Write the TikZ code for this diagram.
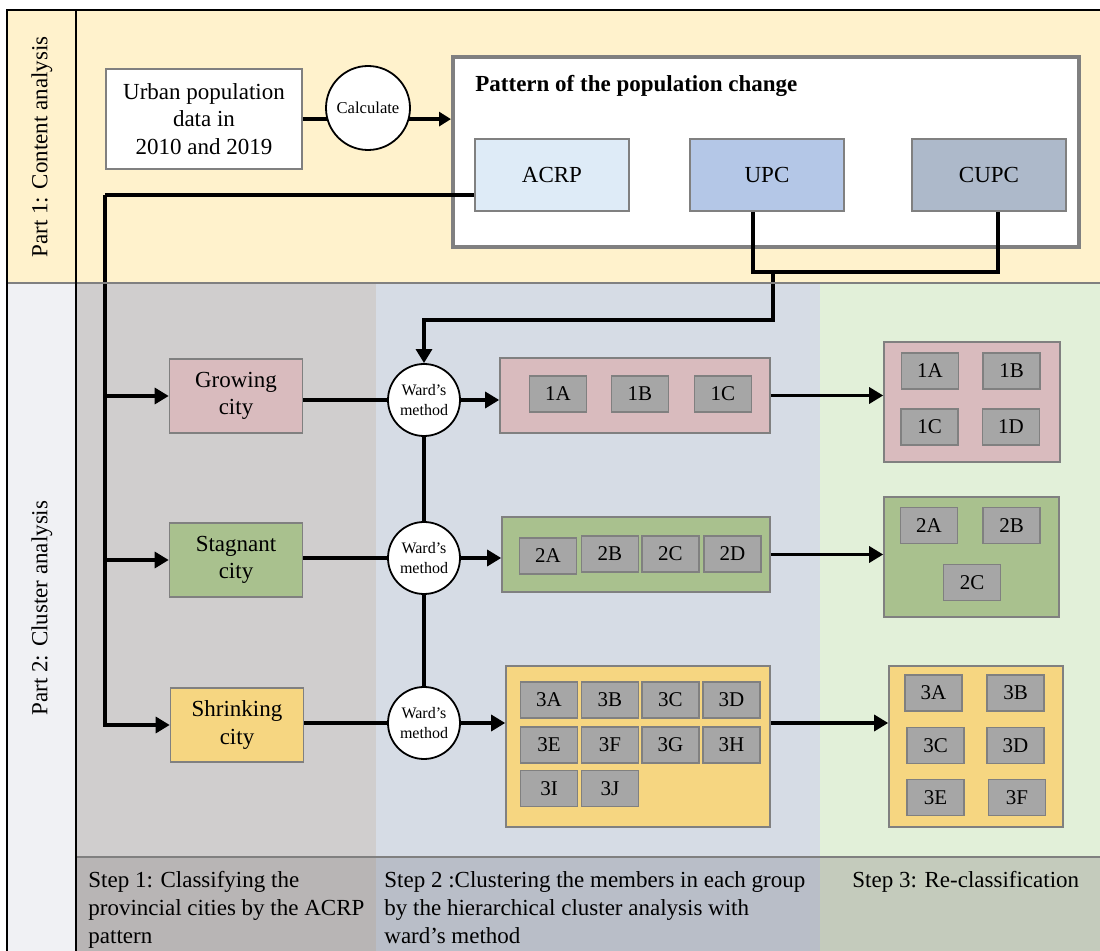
\documentclass[tikz,border=0pt]{standalone}
\usepackage{fontspec}
\setmainfont{Liberation Serif}
\usepackage{tikz}
\usetikzlibrary{positioning,arrows.meta}
\definecolor{partyellow}{RGB}{255,242,204}
\definecolor{partgray}{RGB}{240,241,244}
\definecolor{stepone}{RGB}{208,206,206}
\definecolor{steptwo}{RGB}{214,220,229}
\definecolor{stepthree}{RGB}{226,240,217}
\definecolor{bandone}{RGB}{184,181,181}
\definecolor{bandtwo}{RGB}{185,190,200}
\definecolor{bandthree}{RGB}{196,203,188}
\definecolor{growpink}{RGB}{217,187,190}
\definecolor{staggreen}{RGB}{169,193,142}
\definecolor{shrinkyellow}{RGB}{246,214,129}
\definecolor{acrpblue}{RGB}{222,235,247}
\definecolor{upcblue}{RGB}{180,199,231}
\definecolor{cupcgray}{RGB}{173,185,202}
\definecolor{memgray}{RGB}{166,166,166}
\definecolor{edgegray}{RGB}{128,128,128}

\tikzset{
  box/.style={draw=edgegray, line width=0.8pt, inner sep=1pt, align=center, font=\fontsize{11.5}{13.75}\selectfont},
  member/.style={draw=edgegray, line width=0.9pt, fill=memgray, minimum width=28.5pt, minimum height=18pt, inner sep=0pt, font=\fontsize{10.5}{12}\selectfont},
  ward/.style={circle, draw, line width=0.9pt, fill=white, minimum size=36pt, inner sep=0pt, align=center, font=\fontsize{8}{10}\selectfont},
  flow/.style={line width=1.6pt},
  arr/.style={flow, -{Triangle[length=7pt,width=8pt]}},
  steptext/.style={anchor=north west, inner sep=0pt, align=left, font=\fontsize{11.5}{14}\selectfont}
}

\begin{document}
\begin{tikzpicture}[x=0.5pt, y=-0.5pt]
\useasboundingbox (0,0) rectangle (1100,951);

% backgrounds
\fill[partyellow] (7,10) rectangle (1100,283);
\fill[partgray] (7,283) rectangle (76,951);
\fill[stepone] (76,283) rectangle (376,857);
\fill[steptwo] (376,283) rectangle (820,857);
\fill[stepthree] (820,283) rectangle (1100,857);
\fill[bandone] (76,857) rectangle (376,951);
\fill[bandtwo] (376,857) rectangle (820,951);
\fill[bandthree] (820,857) rectangle (1100,951);

\node[rotate=90, font=\fontsize{11.5}{13.75}\selectfont] (part1) at (42,147) {Part 1: Content analysis};
\node[rotate=90, font=\fontsize{11.5}{13.75}\selectfont] (part2) at (42,608) {Part 2: Cluster analysis};

% part 1
\node[box, fill=white, minimum width=98pt, minimum height=50pt] (data) at (204,119) {Urban population\\data in\\2010 and 2019};
\node[circle, draw, line width=0.9pt, fill=white, minimum size=42pt, inner sep=0pt, font=\fontsize{8.3}{10}\selectfont] (calc) at (368,108) {Calculate};
\node[draw=edgegray, line width=2pt, fill=white, minimum width=313pt, minimum height=95pt] (pat) at (766,152) {};
\node[anchor=west, inner sep=0pt, font=\bfseries\fontsize{11.5}{13.75}\selectfont] (pattitle) at (475,86) {Pattern of the population change};
\node[box, fill=acrpblue, minimum width=77pt, minimum height=36pt] (acrp) at (552,175) {ACRP};
\node[box, fill=upcblue, minimum width=77pt, minimum height=36pt] (upc) at (767,175) {UPC};
\node[box, fill=cupcgray, minimum width=77pt, minimum height=36pt] (cupc) at (989,175) {CUPC};

\draw[line width=2.4pt] (data.east |- calc.195) -- (calc.195);
\draw[line width=2.4pt, -{Triangle[length=6pt,width=7pt]}] (calc.-15) -- (calc.-15 -| pat.west);

% part 2, step 1
\node[box, fill=growpink, minimum width=66.5pt, minimum height=37pt] (grow) at (236,396) {Growing\\city};
\node[box, fill=staggreen, minimum width=66.5pt, minimum height=37pt] (stag) at (236,560) {Stagnant\\city};
\node[box, fill=shrinkyellow, minimum width=66.5pt, minimum height=37pt] (shrink) at (237,725) {Shrinking\\city};

% step 2
\node[ward] (w1) at (424,400) {Ward's\\method};
\node[ward] (w2) at (424,558) {Ward's\\method};
\node[ward] (w3) at (424,723) {Ward's\\method};

\node[box, fill=growpink, minimum width=135pt, minimum height=37.5pt] (g1) at (635,395.5) {};
\node[box, fill=staggreen, minimum width=134pt, minimum height=37.5pt] (g2) at (636,554.5) {};
\node[box, fill=shrinkyellow, minimum width=132pt, minimum height=80.5pt] (g3) at (638,746.5) {};

\foreach \lab/\x/\y in {1A/558/394, 1B/640/394, 1C/723/394,
                        2A/548/556, 2B/610/554, 2C/670.5/554, 2D/732.5/554,
                        3A/549/700, 3B/610/700, 3C/670.5/700, 3D/731.5/700,
                        3E/549/745, 3F/610/745, 3G/670.5/745, 3H/731.5/745,
                        3I/549/788.5, 3J/610/788.5}
  \node[member] (s\lab) at (\x,\y) {\lab};

% step 3
\node[box, fill=growpink, minimum width=88pt, minimum height=60pt] (rc1) at (972,402) {};
\node[box, fill=staggreen, minimum width=87.5pt, minimum height=60pt] (rc2) at (971.5,557) {};
\node[box, fill=shrinkyellow, minimum width=87pt, minimum height=80.5pt] (rc3) at (976,746.5) {};

\foreach \lab/\x/\y in {1A/930/371, 1B/1011.5/371, 1C/929.5/427, 1D/1011/427,
                        2A/929/525.5, 2B/1011.5/525.5, 2C/972/582.5,
                        3A/933.5/693, 3B/1015.5/693, 3C/935.5/745.5, 3D/1015.5/745.5,
                        3E/935.5/797.5, 3F/1017/797.5}
  \node[member] (t\lab) at (\x,\y) {\lab};

% connectors
\coordinate (trunk) at (105,195);
\coordinate (jn) at (773,272);
\coordinate (bend) at (773,320);

\draw[flow] ([yshift=-10pt]acrp.west) -- (trunk);
\draw[arr] (trunk) |- (shrink.west);
\draw[arr] (trunk |- grow.west) -- (grow.west);
\draw[arr] (trunk |- stag.west) -- (stag.west);

\draw[flow] ([xshift=-7pt]upc.south) |- (jn) -| ([xshift=4.5pt]cupc.south);
\draw[arr] (jn) -- (bend) -| (w1.north);

\draw[flow] (grow.east |- w1) -- (w1.west);
\draw[flow] (stag.east |- w2) -- (w2.west);
\draw[flow] (shrink.east |- w3) -- (w3.west);
\draw[flow] (w1.south) -- (w2.north);
\draw[flow] (w2.south) -- (w3.north);

\draw[arr] (w1.east) -- (w1.east -| g1.west);
\draw[arr] (w2.east) -- (w2.east -| g2.west);
\draw[arr] (w3.east) -- (w3.east -| g3.west);

\draw[arr] (g1.east) -- (g1.east -| rc1.west);
\draw[arr] (g2.east) -- (g2.east -| rc2.west);
\draw[arr] (w3.east -| g3.east) -- (w3.east -| rc3.west);

% bottom band
\node[steptext] (step1) at (88,871) {Step 1: Classifying the\\provincial cities by the ACRP\\pattern};
\node[steptext] (step2) at (384,871) {Step 2 :Clustering the members in each group\\by the hierarchical cluster analysis with\\ward's method};
\node[steptext] (step3) at (852,871) {Step 3: Re-classification};

% frame
\draw[edgegray, line width=1pt] (7,283) -- (1100,283);
\draw[edgegray, line width=1.2pt] (76,857) -- (1100,857);
\draw[line width=1.2pt] (1100,10) -- (7,10) -- (7,951);
\draw[line width=1.2pt] (76,10) -- (76,951);

\end{tikzpicture}
\end{document}
